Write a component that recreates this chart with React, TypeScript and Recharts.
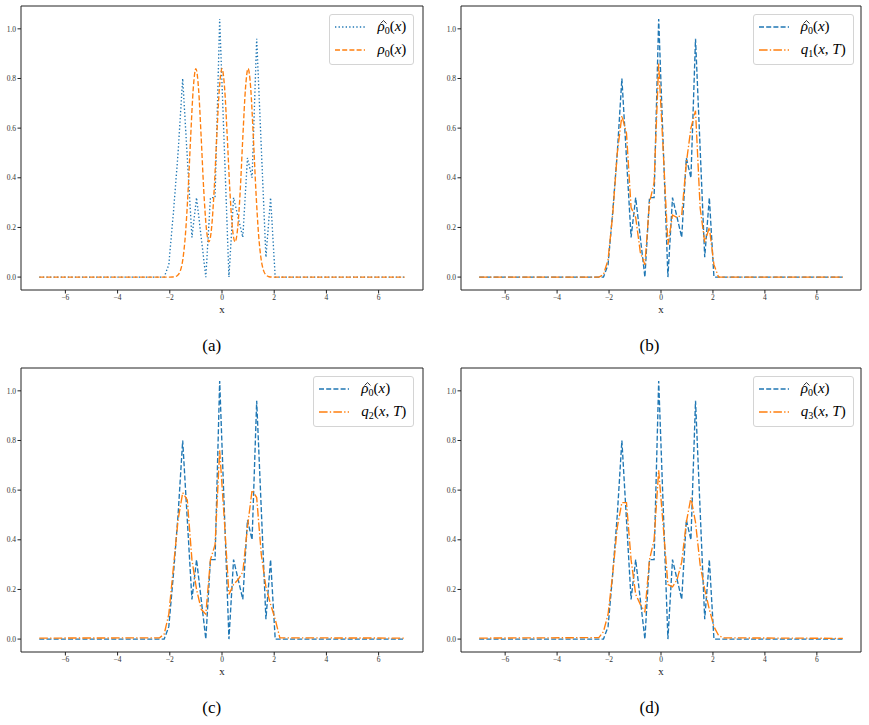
import React from 'react';
import { LineChart, Line, XAxis, YAxis, ReferenceArea, Legend } from 'recharts';

// shared x grid (flat zero outside the centre)
const gridX = [
  -7, -2.392, -2.215, -2.038, -1.861, -1.683, -1.506, -1.329, -1.152, -0.975, -0.797, -0.62, -0.443, -0.266, -0.089,
  0.089, 0.266, 0.443, 0.62, 0.797, 0.975, 1.152, 1.329, 1.506, 1.683, 1.861, 2.038, 2.215, 2.392, 7,
];
const rhoHat = [
  0, 0, 0, 0.05, 0.26, 0.5, 0.8, 0.48, 0.16, 0.32, 0.16, 0, 0.32, 0.32, 1.04,
  0.52, 0, 0.32, 0.24, 0.16, 0.48, 0.4, 0.96, 0.52, 0.08, 0.32, 0, 0, 0, 0,
];
const q1 = [
  0, 0, 0.01, 0.07, 0.25, 0.5, 0.65, 0.58, 0.28, 0.24, 0.1, 0.05, 0.3, 0.38, 0.86,
  0.5, 0.13, 0.25, 0.24, 0.25, 0.46, 0.6, 0.67, 0.28, 0.14, 0.2, 0.05, 0, 0, 0,
];
const q2 = [
  0.004, 0.005, 0.02, 0.1, 0.29, 0.48, 0.59, 0.56, 0.32, 0.2, 0.12, 0.1, 0.32, 0.38, 0.76,
  0.48, 0.18, 0.22, 0.24, 0.27, 0.45, 0.6, 0.57, 0.34, 0.21, 0.14, 0.08, 0.005, 0.005, 0.004,
];
const q3 = [
  0.004, 0.006, 0.03, 0.1, 0.26, 0.45, 0.55, 0.55, 0.32, 0.18, 0.14, 0.11, 0.32, 0.4, 0.68,
  0.45, 0.22, 0.21, 0.24, 0.31, 0.47, 0.57, 0.47, 0.3, 0.2, 0.12, 0.05, 0.015, 0.005, 0.003,
];

// smooth reference density
const rho0X = [
  -7, -2.0, -1.9, -1.8, -1.7, -1.6, -1.5, -1.4, -1.3, -1.2, -1.1, -1.0, -0.9, -0.8, -0.7, -0.6, -0.5, -0.4, -0.3, -0.2, -0.1,
  0, 0.1, 0.2, 0.3, 0.4, 0.5, 0.6, 0.7, 0.8, 0.9, 1.0, 1.1, 1.2, 1.3, 1.4, 1.5, 1.6, 1.7, 1.8, 1.9, 2.0, 7,
];
const rho0Y = [
  0, 0, 0.0003, 0.0015, 0.007, 0.024, 0.071, 0.173, 0.345, 0.566, 0.761, 0.84, 0.761, 0.568, 0.352, 0.197, 0.142, 0.197, 0.352, 0.568, 0.761,
  0.84, 0.761, 0.568, 0.352, 0.197, 0.142, 0.197, 0.352, 0.568, 0.761, 0.84, 0.761, 0.566, 0.345, 0.173, 0.071, 0.024, 0.007, 0.0015, 0.0003, 0, 0,
];

const xTicks = [-6, -4, -2, 0, 2, 4, 6];
const yTicks = [0, 0.2, 0.4, 0.6, 0.8, 1.0];

const rows = gridX.map((x, i) => ({ x, rhoHat: rhoHat[i], q1: q1[i], q2: q2[i], q3: q3[i] }));
const rho0Rows = rho0X.map((x, i) => ({ x, rho0: rho0Y[i] }));

const BLUE = '#1f77b4';
const ORANGE = '#ff7f0e';
const DASHED = '5 2.2';
const DOTTED = '1.35 2.2';
const DASHDOT = '8.6 2.2 1.35 2.2';
const SERIF = '"Liberation Serif", "DejaVu Serif", serif';

const sub = (t: string) => (
  <span style={{ fontSize: 10, fontStyle: 'normal', position: 'relative', top: 3 }}>{t}</span>
);
// hat drawn as a tiny path so it doesn't collide with the rho glyph
const RhoHatLabel = (
  <span>
    <span style={{ position: 'relative', display: 'inline-block' }}>
      <i>ρ</i>
      <svg width={7} height={4} style={{ position: 'absolute', left: 2.5, top: 1.5 }}>
        <polyline points="0.5,3.5 3.5,0.6 6.5,3.5" fill="none" stroke="#000" strokeWidth={0.8} />
      </svg>
    </span>
    {sub('0')}(<i>x</i>)
  </span>
);
const Rho0Label = (
  <span><i>ρ</i>{sub('0')}(<i>x</i>)</span>
);
const qLabel = (n: string) => (
  <span><i>q</i>{sub(n)}(<i>x</i>, <i>T</i>)</span>
);

type Item = { color: string; dash: string; label: React.ReactNode };

function LegendBox({ items }: { items: Item[] }) {
  return (
    <div style={{
      background: 'rgba(255,255,255,0.8)', border: '1px solid #d4d4d4', borderRadius: 3,
      padding: '0 7px 2px 5px', fontFamily: SERIF, color: '#000',
    }}>
      {items.map((it, i) => (
        <div key={i} style={{ display: 'flex', alignItems: 'center', height: 23.3 }}>
          <svg width={30} height={8}>
            <line x1={0} y1={4} x2={30} y2={4} stroke={it.color} strokeWidth={1.35} strokeDasharray={it.dash} />
          </svg>
          <span style={{ marginLeft: 12, fontSize: 15, whiteSpace: 'nowrap' }}>{it.label}</span>
        </div>
      ))}
    </div>
  );
}

type Series = { key: string; color: string; dash: string; data?: object[] };

type PanelProps = {
  left: number;
  top: number;
  width: number;
  yWidth: number;
  marginRight: number;
  legendRight: number;
  series: Series[];
  items: Item[];
  caption: string;
};

function Panel(p: PanelProps) {
  return (
    <div style={{ position: 'absolute', left: p.left, top: p.top }}>
      <LineChart width={p.width} height={330} data={rows}
        margin={{ top: 6, right: p.marginRight, left: 0, bottom: 14 }}>
        <XAxis type="number" dataKey="x" domain={[-7.7, 7.7]} ticks={xTicks} interval={0}
          allowDataOverflow axisLine={false} tickSize={3.5} tickMargin={1.5} height={26}
          tickLine={{ stroke: '#222' }}
          tick={{ fontSize: 7.5, fill: '#333', fontFamily: SERIF }}
          tickFormatter={(v: number) => String(v).replace('-', '\u2212')}
          label={{ value: 'x', position: 'insideBottom', offset: 3, fontSize: 11, fill: '#222', fontFamily: SERIF }} />
        <YAxis type="number" domain={[-0.052, 1.092]} ticks={yTicks} interval={0}
          allowDataOverflow axisLine={false} tickSize={3.5} tickMargin={1.5} width={p.yWidth}
          tickLine={{ stroke: '#222' }}
          tick={{ fontSize: 7.5, fill: '#333', fontFamily: SERIF }}
          tickFormatter={(v: number) => v.toFixed(1)} />
        <ReferenceArea x1={-7.7} x2={7.7} y1={-0.052} y2={1.092} ifOverflow="visible"
          fill="none" fillOpacity={0} stroke="#222" strokeWidth={1} />
        {p.series.map((s) => (
          <Line key={s.key} data={s.data} dataKey={s.key} type={s.key === 'rho0' ? 'monotone' : 'linear'}
            stroke={s.color} strokeWidth={1.35} strokeDasharray={s.dash} dot={false} activeDot={false}
            isAnimationActive={false} />
        ))}
        <Legend layout="horizontal" verticalAlign="middle" align="center"
          wrapperStyle={{ top: 14, right: p.legendRight, left: 'auto', bottom: 'auto', width: 'auto' }}
          content={() => <LegendBox items={p.items} />} />
      </LineChart>
      <div style={{
        position: 'absolute', left: 0, width: p.width - p.marginRight + p.yWidth / 2 - 10, top: 336,
        textAlign: 'center', fontFamily: SERIF, fontSize: 17, color: '#000',
      }}>{p.caption}</div>
    </div>
  );
}

export default function App() {
  return (
    <div style={{ position: 'absolute', left: 0, top: 0, width: 869, height: 725, background: '#fff' }}>
      <Panel left={0} top={0} width={435} yWidth={21} marginRight={12} legendRight={20.7}
        series={[
          { key: 'rhoHat', color: BLUE, dash: DOTTED },
          { key: 'rho0', color: ORANGE, dash: DASHED, data: rho0Rows },
        ]}
        items={[
          { color: BLUE, dash: DOTTED, label: RhoHatLabel },
          { color: ORANGE, dash: DASHED, label: Rho0Label },
        ]}
        caption="(a)" />
      <Panel left={435} top={0} width={434} yWidth={26} marginRight={8} legendRight={15.3}
        series={[
          { key: 'rhoHat', color: BLUE, dash: DASHED },
          { key: 'q1', color: ORANGE, dash: DASHDOT },
        ]}
        items={[
          { color: BLUE, dash: DASHED, label: RhoHatLabel },
          { color: ORANGE, dash: DASHDOT, label: qLabel('1') },
        ]}
        caption="(b)" />
      <Panel left={0} top={362} width={435} yWidth={21} marginRight={12} legendRight={20.7}
        series={[
          { key: 'rhoHat', color: BLUE, dash: DASHED },
          { key: 'q2', color: ORANGE, dash: DASHDOT },
        ]}
        items={[
          { color: BLUE, dash: DASHED, label: RhoHatLabel },
          { color: ORANGE, dash: DASHDOT, label: qLabel('2') },
        ]}
        caption="(c)" />
      <Panel left={435} top={362} width={434} yWidth={26} marginRight={8} legendRight={15.3}
        series={[
          { key: 'rhoHat', color: BLUE, dash: DASHED },
          { key: 'q3', color: ORANGE, dash: DASHDOT },
        ]}
        items={[
          { color: BLUE, dash: DASHED, label: RhoHatLabel },
          { color: ORANGE, dash: DASHDOT, label: qLabel('3') },
        ]}
        caption="(d)" />
    </div>
  );
}
